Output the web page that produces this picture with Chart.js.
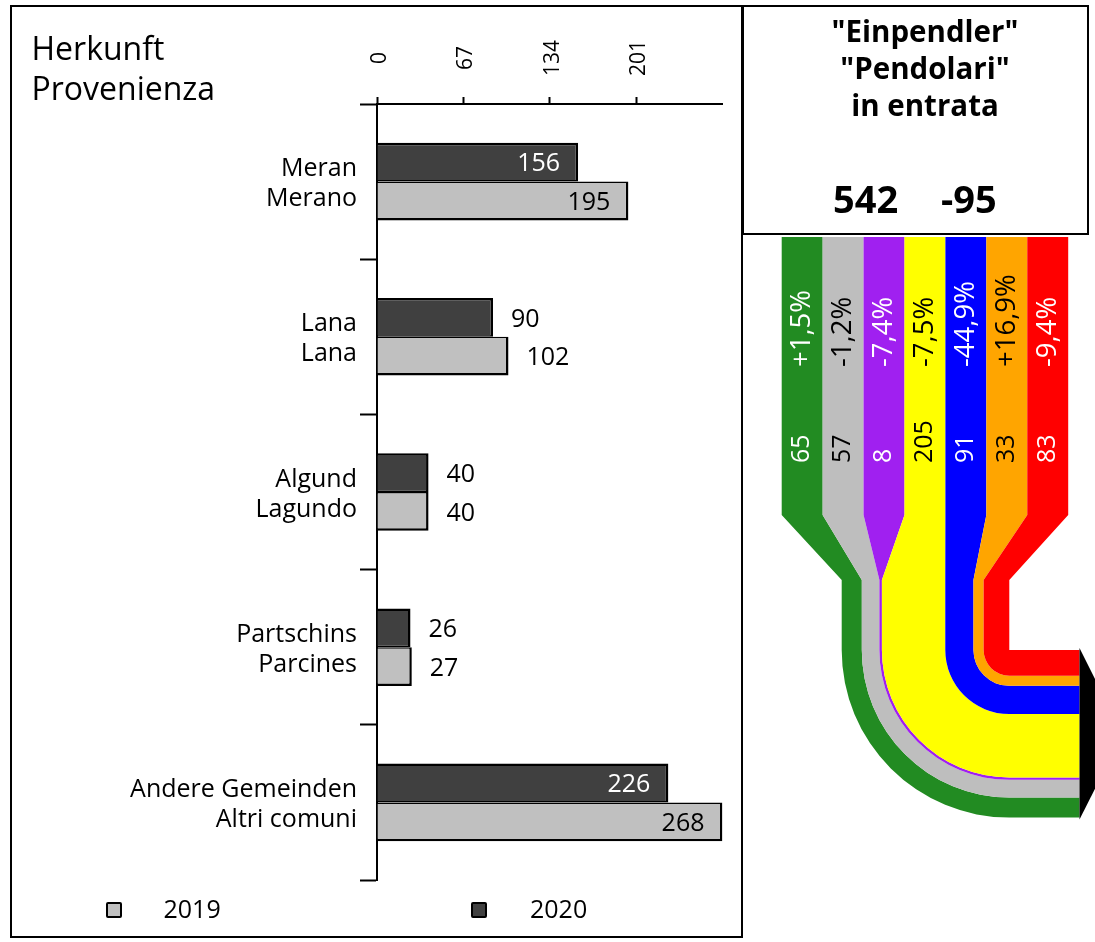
<!DOCTYPE html>
<html>
<head>
<meta charset="utf-8">
<script src="https://cdn.jsdelivr.net/npm/chart.js@4.4.1/dist/chart.umd.min.js"></script>
<style>
  html, body { margin:0; padding:0; background:#fff; }
  #page { position:relative; width:1095px; height:942px; overflow:hidden; font-family:"Open Sans", sans-serif; color:#000; }
  .abs { position:absolute; }
  #frame { left:10px; top:5px; width:733px; height:933px; border:2px solid #000; box-sizing:border-box; }
  #rbox { left:742px; top:5px; width:347px; height:230px; border:2px solid #000; box-sizing:border-box; background:#fff; }
  #herkunft { left:31.5px; top:28px; font-size:32px; line-height:40px; white-space:nowrap; }
  #title { left:760px; width:330px; top:12.3px; font-size:29.5px; font-weight:bold; line-height:37px; text-align:center; white-space:nowrap; }
  .big { top:178px; font-size:38px; font-weight:bold; line-height:40px; white-space:nowrap; }
  .legsq { width:16px; height:16px; border:2px solid #000; box-sizing:border-box; border-radius:2px; }
  .legtx { font-size:25px; line-height:30px; top:893px; white-space:nowrap; }
</style>
</head>
<body>
<div id="page">
  <div id="frame" class="abs"></div>
  <div class="abs" style="left:0;top:0;width:745px;height:942px;"><canvas id="bars" width="745" height="942" style="width:745px;height:942px;"></canvas></div>
  <div id="herkunft" class="abs">Herkunft<br>Provenienza</div>
  <div class="abs legsq" style="left:106px;top:902px;background:#c0c0c0;"></div>
  <div class="abs legtx" style="left:163.5px;">2019</div>
  <div class="abs legsq" style="left:471px;top:902px;background:#404040;"></div>
  <div class="abs legtx" style="left:530px;">2020</div>
  <div id="rbox" class="abs"></div>
  <div id="title" class="abs">"Einpendler"<br>"Pendolari"<br>in entrata</div>
  <div id="tot" class="abs big" style="left:833px;"></div>
  <div id="delta" class="abs big" style="left:941px;"></div>
  <div class="abs" style="left:743px;top:235px;width:352px;height:707px;"><canvas id="flow" width="352" height="707" style="width:352px;height:707px;"></canvas></div>
</div>
<script>
// ---------- data ----------
const categories = [['Meran','Merano'],['Lana','Lana'],['Algund','Lagundo'],['Partschins','Parcines'],['Andere Gemeinden','Altri comuni']];
const values2020 = [156, 90, 40, 26, 226];
const values2019 = [195, 102, 40, 27, 268];
const axisTicks = [0, 67, 134, 201];
const axisMax = 268;

const flowValues  = [65, 57, 8, 205, 91, 33, 83];
const flowChanges = ['+1,5%','-1,2%','-7,4%','-7,5%','-44,9%','+16,9%','-9,4%'];
const flowTotal = 542;
const flowDelta = -95;

// ---------- styles ----------
const flowColors = ['#228B22','#BEBEBE','#A020F0','#FFFF00','#0000FF','#FFA500','#FF0000'];
const flowTextColors = ['#fff','#000','#fff','#000','#fff','#000','#fff'];
const FONT = '"Open Sans", sans-serif';

document.getElementById('tot').textContent = String(flowTotal);
document.getElementById('delta').textContent = String(flowDelta);

// ---------- bar chart ----------
const barLabels = {
  id: 'barLabels',
  afterDatasetsDraw(chart) {
    const ctx = chart.ctx;
    ctx.save();
    ctx.font = '25px ' + FONT;
    ctx.textBaseline = 'middle';
    chart.data.datasets.forEach((ds, di) => {
      const meta = chart.getDatasetMeta(di);
      meta.data.forEach((bar, i) => {
        const w = bar.x - bar.base;
        if (w > 150) {
          ctx.textAlign = 'right';
          ctx.fillStyle = ds.labelColor;
          ctx.fillText(String(ds.data[i]), bar.x - 18, bar.y + 2);
        } else {
          ctx.textAlign = 'left';
          ctx.fillStyle = '#000';
          ctx.fillText(String(ds.data[i]), bar.x + 18, bar.y + 2);
        }
      });
    });
    ctx.restore();
  }
};
const topTickLabels = {
  id: 'topTickLabels',
  afterDraw(chart) {
    const sx = chart.scales.x;
    const ctx = chart.ctx;
    ctx.save();
    ctx.font = '21px ' + FONT;
    ctx.fillStyle = '#000';
    ctx.textAlign = 'center';
    ctx.textBaseline = 'middle';
    sx.ticks.forEach(t => {
      const px = sx.getPixelForValue(t.value);
      ctx.save();
      ctx.translate(px + 3, 58);
      ctx.rotate(-Math.PI / 2);
      ctx.fillText(String(t.value), 0, 0);
      ctx.restore();
    });
    ctx.restore();
  }
};

new Chart(document.getElementById('bars'), {
  type: 'bar',
  data: {
    labels: categories,
    datasets: [
      { label: '2020', data: values2020, backgroundColor: '#404040', borderColor: '#000',
        borderWidth: {top:2.5, right:2.5, bottom:1.5, left:0}, borderSkipped: false, labelColor: '#fff' },
      { label: '2019', data: values2019, backgroundColor: '#c0c0c0', borderColor: '#000',
        borderWidth: {top:1.5, right:2.5, bottom:2.5, left:0}, borderSkipped: false, labelColor: '#000' }
    ]
  },
  options: {
    indexAxis: 'y',
    responsive: false,
    animation: false,
    devicePixelRatio: 1,
    categoryPercentage: 0.5,
    barPercentage: 1.0,
    layout: { padding: { left: 0, right: 22.5, top: 0, bottom: 62 } },
    plugins: { legend: { display: false }, tooltip: { enabled: false } },
    scales: {
      x: {
        position: 'top', min: 0, max: axisMax,
        afterBuildTicks: s => { s.ticks = axisTicks.map(v => ({ value: v })); },
        afterFit: s => { s.height = 104; },
        ticks: { display: false },
        grid: { drawOnChartArea: false, drawTicks: true, tickLength: 7, tickWidth: 2, tickColor: '#000' },
        border: { display: true, color: '#000', width: 2 }
      },
      y: {
        afterFit: s => { s.width = 377; },
        ticks: { font: { family: FONT, size: 25, lineHeight: 1.2 }, color: '#000', padding: 3, labelOffset: 2.5 },
        grid: { drawOnChartArea: false, drawTicks: true, tickLength: 17, tickWidth: 2, tickColor: '#000', offset: true },
        border: { display: true, color: '#000', width: 2 }
      }
    }
  },
  plugins: [barLabels, topTickLabels]
});

// ---------- flow (sankey-like) chart ----------
// layout constants in scale units (1 unit = 1 px of the flow canvas)
const TOP_X0 = 38.7, BAND_W = 40.93, TOP_Y0 = 2, TAPER_Y0 = 280, TAPER_Y1 = 345;
const BEND_Y = 415, NARROW_X0 = 98.7, FLOW_W = 167.6, END_X = 336.5, ARROW_LEN = 43;
const PCT_Y = 132, VAL_Y = 228;

const flowPlugin = {
  id: 'flowBands',
  afterDatasetsDraw(chart) {
    const xs = chart.scales.x, ys = chart.scales.y;
    const X = v => xs.getPixelForValue(v), Y = v => ys.getPixelForValue(v);
    const ctx = chart.ctx;
    const total = flowValues.reduce((a, b) => a + b, 0);
    const k = FLOW_W / total;
    const cx = X(NARROW_X0 + FLOW_W), cy = Y(BEND_Y);
    let cum = 0;
    ctx.save();
    flowValues.forEach((v, i) => {
      const l = NARROW_X0 + cum, r = l + v * k;
      cum += v * k;
      const tl = TOP_X0 + i * BAND_W, tr = tl + BAND_W;
      const rOut = cx - X(l), rIn = Math.max(0, cx - X(r));
      ctx.beginPath();
      ctx.moveTo(X(tl), Y(TOP_Y0));
      ctx.lineTo(X(tl), Y(TAPER_Y0));
      ctx.lineTo(X(l), Y(TAPER_Y1));
      ctx.lineTo(X(l), cy);
      ctx.arc(cx, cy, rOut, Math.PI, Math.PI / 2, true);
      ctx.lineTo(X(END_X), cy + rOut);
      ctx.lineTo(X(END_X), cy + rIn);
      ctx.lineTo(cx, cy + rIn);
      if (rIn > 0.01) ctx.arc(cx, cy, rIn, Math.PI / 2, Math.PI, false);
      else ctx.lineTo(cx, cy);
      ctx.lineTo(X(r), Y(TAPER_Y1));
      ctx.lineTo(X(tr), Y(TAPER_Y0));
      ctx.lineTo(X(tr), Y(TOP_Y0));
      ctx.closePath();
      ctx.fillStyle = flowColors[i];
      ctx.fill();
    });
    // arrow head
    ctx.beginPath();
    ctx.moveTo(X(END_X), Y(BEND_Y - 2));
    ctx.lineTo(X(END_X + ARROW_LEN), Y(BEND_Y + FLOW_W / 2));
    ctx.lineTo(X(END_X), Y(BEND_Y + FLOW_W + 2));
    ctx.closePath();
    ctx.fillStyle = '#000';
    ctx.fill();
    // labels
    ctx.textBaseline = 'middle';
    ctx.textAlign = 'left';
    flowValues.forEach((v, i) => {
      const xc = X(TOP_X0 + (i + 0.5) * BAND_W);
      ctx.fillStyle = flowTextColors[i];
      [[flowChanges[i], PCT_Y, 27.5], [String(v), VAL_Y, 25]].forEach(([txt, yy, fs]) => {
        ctx.save();
        ctx.font = fs + 'px ' + FONT;
        ctx.translate(xc, Y(yy));
        ctx.rotate(-Math.PI / 2);
        ctx.fillText(txt, 0, 0);
        ctx.restore();
      });
    });
    ctx.restore();
  }
};

new Chart(document.getElementById('flow'), {
  type: 'scatter',
  data: { datasets: [{ data: [] }] },
  options: {
    responsive: false,
    animation: false,
    devicePixelRatio: 1,
    layout: { padding: 0 },
    plugins: { legend: { display: false }, tooltip: { enabled: false } },
    scales: {
      x: { type: 'linear', display: false, min: 0, max: 352 },
      y: { type: 'linear', display: false, min: 0, max: 707, reverse: true }
    }
  },
  plugins: [flowPlugin]
});
</script>
</body>
</html>
